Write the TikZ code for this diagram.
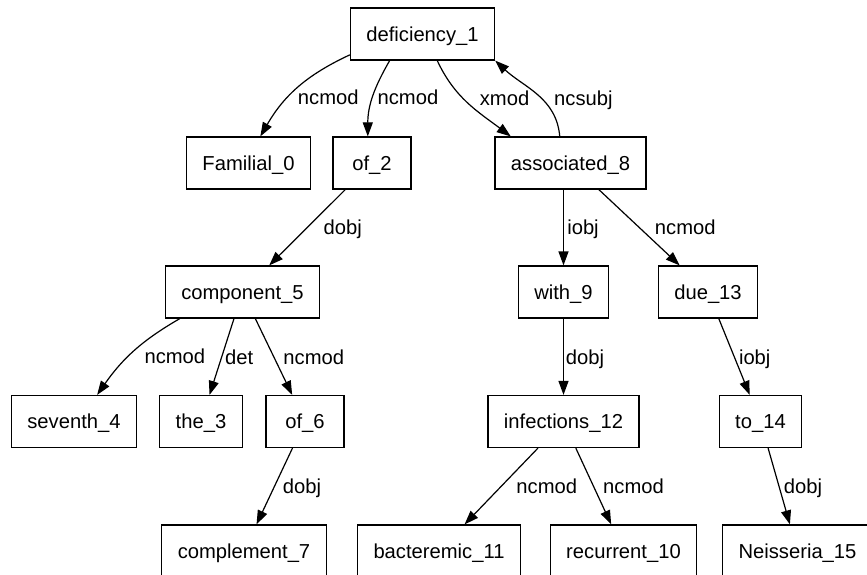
\documentclass[tikz,border=0pt]{standalone}
\usepackage{fontspec}
\setmainfont{Liberation Sans}
\usetikzlibrary{arrows.meta}

\begin{document}
\begin{tikzpicture}[
  x=1pt, y=-1pt,
  every node/.style={font=\fontsize{20.2}{24}\selectfont},
  word/.style={rectangle, draw, line width=1.2pt, minimum width=78pt, minimum height=52pt, inner xsep=15.9pt, text height=14.5pt, text depth=0pt},
  rel/.style={inner sep=0pt, text height=14.5pt, text depth=0pt},
  dep/.style={-{Triangle[length=14pt, width=10pt]}, line width=1.2pt},
]
\useasboundingbox (0,0) rectangle (867,575);
\clip (0,0) rectangle (867,575);

% Words, row by row
\node[word] (def1) at (422.5,34) {deficiency\_1};

\node[word] (fam0) at (248.5,163) {Familial\_0};
\node[word] (of2) at (372,163) {of\_2};
\node[word] (assoc8) at (570.5,163) {associated\_8};

\node[word] (comp5) at (242.5,292) {component\_5};
\node[word] (with9) at (563.5,292) {with\_9};
\node[word] (due13) at (708,292) {due\_13};

\node[word] (sev4) at (74,421.5) {seventh\_4};
\node[word] (the3) at (201,421.5) {the\_3};
\node[word] (of6) at (305,421.5) {of\_6};
\node[word] (inf12) at (563.5,421.5) {infections\_12};
\node[word] (to14) at (760.5,421.5) {to\_14};

\node[word] (compl7) at (244,551) {complement\_7};
\node[word] (bact11) at (439,551) {bacteremic\_11};
\node[word] (rec10) at (623.5,551) {recurrent\_10};
\node[word] (neis15) at (797.5,551) {Neisseria\_15};

% Curved dependencies
\draw[dep] (def1.196) to[out=205, in=60] node[rel, xshift=30.4pt, yshift=-9.6pt] {ncmod} (fam0.66);
\draw[dep] (def1.219) to[out=240, in=90] node[rel, xshift=35pt] {ncmod} (of2.99);
\draw[dep] (def1.-61) to[out=-65, in=143] node[rel, xshift=36.4pt, yshift=5pt] {xmod} (assoc8.156);
\draw[dep] (assoc8.112) to[out=95, in=-43] node[rel, xshift=46.5pt, yshift=-4pt] {ncsubj} (def1.south east);
\draw[dep] (comp5.203) to[out=210, in=55] node[rel, xshift=41.2pt, yshift=-4.6pt] {ncmod} (sev4.49);

% Straight dependencies
\draw[dep] (of2) -- node[rel, xshift=35.5pt] {dobj} (comp5);
\draw[dep] (comp5) -- node[rel, xshift=17.5pt] {det} (the3);
\draw[dep] (comp5) -- node[rel, xshift=40pt] {ncmod} (of6);
\draw[dep] (of6) -- node[rel, xshift=27.5pt] {dobj} (compl7);
\draw[dep] (with9.north |- assoc8.south) -- node[rel, xshift=19.5pt] {iobj} (with9.north);
\draw[dep] (assoc8) -- node[rel, xshift=46pt] {ncmod} (due13);
\draw[dep] (with9) -- node[rel, xshift=21.5pt] {dobj} (inf12);
\draw[dep] (due13) -- node[rel, xshift=20.5pt] {iobj} (to14);
\draw[dep] (inf12) -- node[rel, xshift=45.5pt] {ncmod} (bact11);
\draw[dep] (inf12) -- node[rel, xshift=40pt] {ncmod} (rec10);
\draw[dep] (to14) -- node[rel, xshift=24pt] {dobj} (neis15);
\end{tikzpicture}
\end{document}
